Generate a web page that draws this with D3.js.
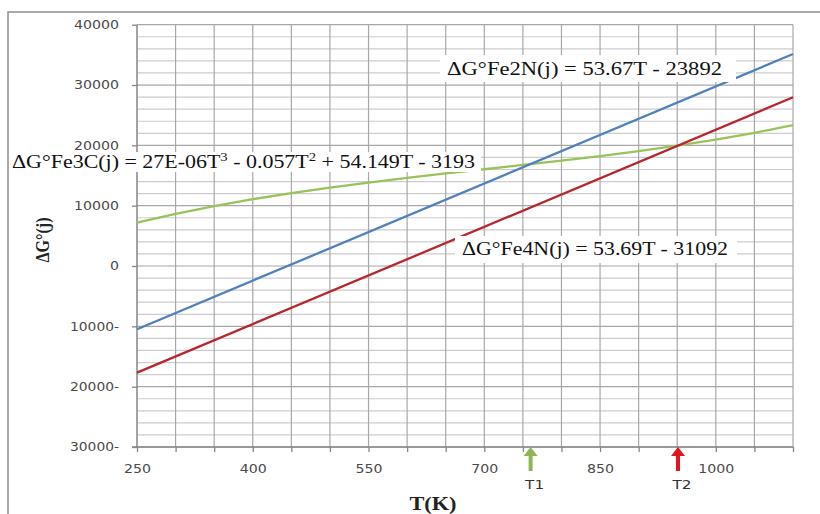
<!DOCTYPE html>
<html>
<head>
<meta charset="utf-8">
<title>Delta G vs T</title>
<script src="https://d3js.org/d3.v7.min.js"></script>
<style>
  body { margin: 0; background: #fff; }
  svg { display: block; }
</style>
</head>
<body>
<svg id="chart"></svg>
<script>

// data
var temps = [250, 1100];
var fe2n = [-10475, 35145];   // ΔG°Fe2N(j)
var fe4n = [-17670, 27967];   // ΔG°Fe4N(j)

var fe3cT = [250, 300, 350, 400, 450, 500, 550, 600, 650, 700, 750, 800, 850, 900, 950, 1000, 1050, 1100];
var fe3c  = [7200, 8650, 9930, 11070, 12090, 13010, 13840, 14610, 15340, 16040, 16750, 17470, 18230, 19050, 19960, 20960, 22080, 23340];

var yTicks = [-30000, -20000, -10000, 0, 10000, 20000, 30000, 40000];
var xLabels = [250, 400, 550, 700, 850, 1000];
var marks = [{name: "T1", t: 760, color: "#8fb650"}, {name: "T2", t: 951, color: "#e3141b"}];

var width = 820, height = 514;

var svg = d3.select("#chart").attr("width", width).attr("height", height);

svg.append("rect").attr("width", width).attr("height", height).attr("fill", "#fff");

// outer frame (only left + top show in the crop)
svg.append("path")
    .attr("d", "M8,514 L8,12 L820,12")
    .attr("fill", "none").attr("stroke", "#8f8f8f").attr("stroke-width", 1.5);

var x = d3.scaleLinear().domain([250, 1100]).range([137, 793]);
var y = d3.scaleLinear().domain([-30000, 40000]).range([447, 24.7]);

// grid
var grid = svg.append("g");
grid.selectAll(".hmin")
    .data(d3.range(-30000, 40001, 2000))
  .enter().append("line")
    .attr("x1", x(250)).attr("x2", x(1100))
    .attr("y1", function(d) { return y(d); }).attr("y2", function(d) { return y(d); })
    .attr("stroke", function(d) { return d % 10000 == 0 ? "#a8a8a8" : "#cdcdcd"; })
    .attr("stroke-width", 1.2);

grid.selectAll(".vgrid")
    .data(d3.range(300, 1101, 50))
  .enter().append("line")
    .attr("x1", function(d) { return x(d); }).attr("x2", function(d) { return x(d); })
    .attr("y1", y(40000)).attr("y2", y(-30000))
    .attr("stroke", "#a8a8a8").attr("stroke-width", 1.2);

// axes
var yAxis = svg.append("g")
    .attr("transform", "translate(" + x(250) + ",0)")
    .call(d3.axisLeft(y).tickValues(yTicks).tickSize(5).tickPadding(13)
        .tickFormat(function(d) { return d < 0 ? Math.abs(d) + "-" : d; }));

var xAxis = svg.append("g")
    .attr("transform", "translate(0," + y(-30000) + ")")
    .call(d3.axisBottom(x).tickValues(d3.range(250, 1101, 50)).tickSize(5).tickPadding(12)
        .tickFormat(function(d) { return xLabels.indexOf(d) >= 0 ? d : ""; }));

[yAxis, xAxis].forEach(function(a) {
  a.select(".domain").attr("stroke", "#868686").attr("stroke-width", 1.5);
  a.selectAll(".tick line").attr("stroke", "#868686").attr("stroke-width", 1.3);
  a.selectAll(".tick text")
    .attr("fill", "#4a4a4a")
    .style("font-family", "DejaVu Sans")
    .style("font-size", "12px")
    .attr("textLength", function() { var s = this.textContent; return s.length ? s.replace("-", "").length * 9 + (s.indexOf("-") >= 0 ? 4 : 0) : null; })
    .attr("lengthAdjust", "spacingAndGlyphs");
});
yAxis.select(".domain").attr("d", "M0," + y(40000) + "V" + y(-30000));
xAxis.select(".domain").attr("d", "M" + (x(250) - 5) + ",0H" + x(1100));

// lines
var line = d3.line()
    .x(function(d) { return x(d[0]); })
    .y(function(d) { return y(d[1]); });

svg.append("path")
    .attr("d", line(d3.zip(fe3cT, fe3c)))
    .attr("fill", "none").attr("stroke", "#98c35a").attr("stroke-width", 2.3);

svg.append("path")
    .attr("d", line(d3.zip(temps, fe2n)))
    .attr("fill", "none").attr("stroke", "#4f81bd").attr("stroke-width", 2.3);

svg.append("path")
    .attr("d", line(d3.zip(temps, fe4n)))
    .attr("fill", "none").attr("stroke", "#b7262d").attr("stroke-width", 2.3);

// equation labels with white boxes; parts: [text, superscript?]
var labels = [
  {parts: [["ΔG°Fe2N(j) = 53.67T - 23892", 0]], x: 447, y: 75, len: 275, box: [440, 55, 296, 27]},
  {parts: [["ΔG°Fe3C(j) = 27E-06T", 0], ["3", 1], [" - 0.057T", 0], ["2", 1], [" + 54.149T - 3193", 0]],
    x: 12, y: 168, len: 463, box: [9, 152, 472, 20]},
  {parts: [["ΔG°Fe4N(j) = 53.69T - 31092", 0]], x: 462, y: 255, len: 266, box: [455, 236, 282, 27]}
];

labels.forEach(function(l) {
  svg.append("rect")
    .attr("x", l.box[0]).attr("y", l.box[1]).attr("width", l.box[2]).attr("height", l.box[3])
    .attr("fill", "#fff");
  var t = svg.append("text")
    .attr("x", l.x).attr("y", l.y)
    .attr("textLength", l.len).attr("lengthAdjust", "spacingAndGlyphs")
    .style("font-family", "Liberation Serif")
    .style("font-size", "18px")
    .attr("fill", "#111");
  l.parts.forEach(function(p) {
    t.append("tspan")
      .attr("y", p[1] ? l.y - 7 : l.y)
      .style("font-size", p[1] ? "12px" : null)
      .text(p[0]);
  });
});

// axis titles
svg.append("text")
    .attr("transform", "translate(49,240) rotate(-90)")
    .attr("text-anchor", "middle")
    .attr("textLength", 45).attr("lengthAdjust", "spacingAndGlyphs")
    .style("font-family", "Liberation Serif").style("font-size", "18px").style("font-weight", "bold")
    .attr("fill", "#222")
    .text("ΔG°(j)");

svg.append("text")
    .attr("x", 433).attr("y", 510)
    .attr("text-anchor", "middle")
    .attr("textLength", 47).attr("lengthAdjust", "spacingAndGlyphs")
    .style("font-family", "Liberation Serif").style("font-size", "18px").style("font-weight", "bold")
    .attr("fill", "#222")
    .text("T(K)");

// T1 / T2 arrows
var mk = svg.selectAll(".mark").data(marks).enter().append("g")
    .attr("transform", function(d) { return "translate(" + x(d.t) + "," + y(-30000) + ")"; });

mk.append("line")
    .attr("x1", 0).attr("x2", 0).attr("y1", 7).attr("y2", 24)
    .attr("stroke", function(d) { return d.color; }).attr("stroke-width", 4);
mk.append("path")
    .attr("d", "M0,0 L7,9 L-7,9 Z")
    .attr("fill", function(d) { return d.color; });
mk.append("text")
    .attr("x", 4).attr("y", 42)
    .attr("text-anchor", "middle")
    .attr("textLength", 19).attr("lengthAdjust", "spacingAndGlyphs")
    .style("font-family", "DejaVu Sans").style("font-size", "13px")
    .attr("fill", "#333")
    .text(function(d) { return d.name; });

</script>
</body>
</html>
